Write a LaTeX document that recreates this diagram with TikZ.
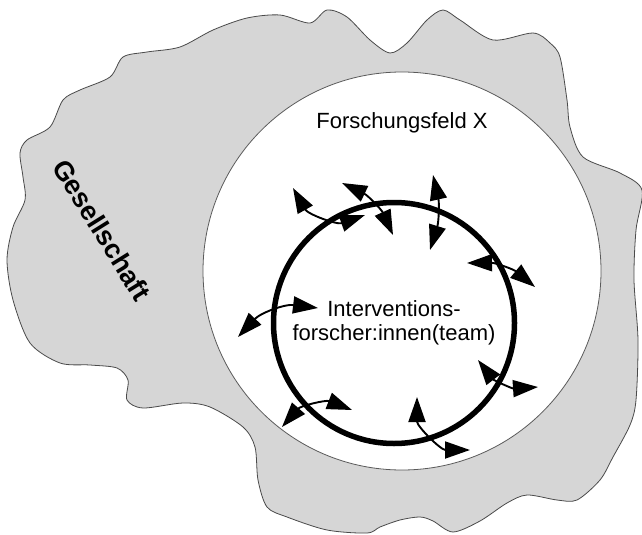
\documentclass[tikz,border=0pt]{standalone}
\usepackage{fontspec}
\setmainfont{Liberation Sans}
\usetikzlibrary{arrows.meta}
\definecolor{cloudfill}{HTML}{D6D6D6}
\definecolor{cloudline}{HTML}{4A4A4A}
\definecolor{fieldline}{HTML}{5A5A5A}

\begin{document}
\begin{tikzpicture}[x=1pt,y=-1pt,>={Triangle[length=25pt,width=17pt]},
  swing/.style={<->,line width=1.9pt},
  label22/.style={font=\fontsize{22}{24}\selectfont}]
  \useasboundingbox (0,0) rectangle (642,535);
  \draw[cloudline,fill=cloudfill,line width=0.8pt] plot[smooth cycle,tension=0.5] coordinates {
    (80,90) (110,77) (123,57) (147,52) (180,47) (213,30) (247,18) (280,15) (310,23)
    (327,10) (347,17) (370,40) (390,53) (407,43) (427,20) (443,10) (460,20) (493,40)
    (533,33) (550,43) (560,57) (567,100) (570,127) (583,157) (620,173) (642,190)
    (636,230) (634,280) (638,340) (636,400) (630,425) (613,457) (600,480) (577,500)
    (557,500) (527,495) (507,503) (480,521) (453,532) (433,521) (420,517) (400,520)
    (380,527) (367,533) (327,530) (287,517) (267,507) (258,480) (255,447) (243,427)
    (210,407) (183,403) (143,408) (127,400) (128,380) (117,368) (90,365) (60,363)
    (30,343) (13,300) (7,260) (13,227) (25,200) (23,177) (20,153) (27,140) (50,127)
    (63,100)};
  \node[circle,draw=fieldline,fill=white,line width=0.8pt,minimum size=398pt,inner sep=0pt] (field) at (402,271) {};
  \node[label22] (fieldlabel) at (402,123) {Forschungsfeld X};
  \node[font=\bfseries\fontsize{27}{30}\selectfont,rotate=-58] (society) at (102,230) {Gesellschaft};
  \node[circle,draw,line width=5.5pt,minimum size=241pt,align=center,label22] (team) at (394,323)
    {Interventions-\\forscher:innen(team)};
  \coordinate (s1) at (293,188); \coordinate (e1) at (365,215);
  \coordinate (s2) at (342,183); \coordinate (e2) at (393,235);
  \coordinate (s3) at (433,175); \coordinate (e3) at (430,250);
  \coordinate (s4) at (467,263); \coordinate (e4) at (535,287);
  \coordinate (s5) at (238,337); \coordinate (e5) at (318,308);
  \coordinate (s6) at (282,427); \coordinate (e6) at (352,410);
  \coordinate (s7) at (417,397); \coordinate (e7) at (470,450);
  \coordinate (s8) at (478,360); \coordinate (e8) at (538,387);
  \foreach \i/\b in {1/-40,2/20,3/15,4/20,5/27,6/35,7/-45,8/-28}
    \draw[swing,bend left=\b] (s\i) to (e\i);
\end{tikzpicture}
\end{document}
